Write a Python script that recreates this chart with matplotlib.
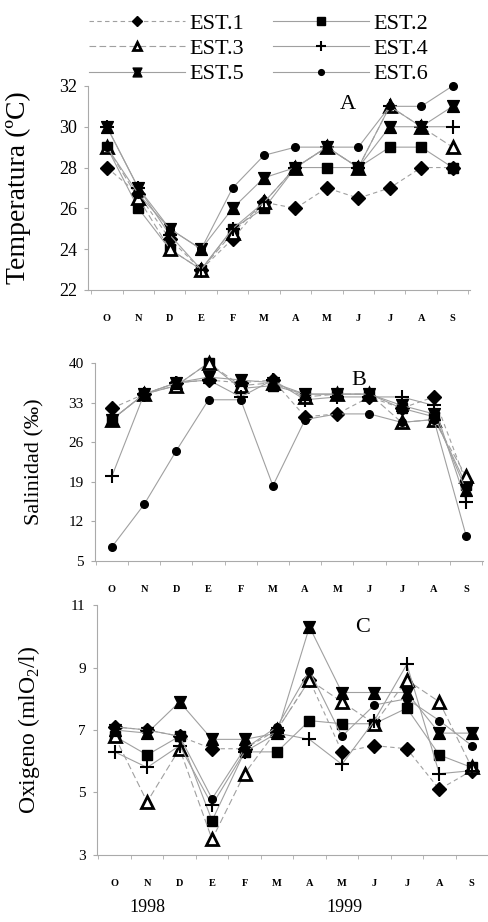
import matplotlib
matplotlib.use("Agg")
import matplotlib.pyplot as plt
from matplotlib.path import Path
from matplotlib.ticker import FixedLocator

plt.rcParams['font.family'] = ['Liberation Serif', 'DejaVu Serif']
plt.rcParams['mathtext.fontset'] = 'custom'
plt.rcParams['mathtext.rm'] = 'Liberation Serif'

meses = ['O', 'N', 'D', 'E', 'F', 'M', 'A', 'M', 'J', 'J', 'A', 'S']
estaciones = ['EST.1', 'EST.2', 'EST.3', 'EST.4', 'EST.5', 'EST.6']

# A - temperatura (C)
temp_e1 = [28, 26.7, 24.5, 23, 24.5, 26.3, 26, 27, 26.5, 27, 28, 28]
temp_e2 = [29, 26, 24, 23, 25, 26, 28, 28, 28, 29, 29, 28]
temp_e3 = [29, 26.5, 24, 23, 24.8, 26.3, 28, 29, 28, 31, 30, 29]
temp_e4 = [30, 27, 24.7, 23, 25, 26.3, 28, 29, 28, 31, 30, 30]
temp_e5 = [30, 27, 25, 24, 26, 27.5, 28, 29, 28, 30, 30, 31]
temp_e6 = [29, 26.7, 25, 24, 27, 28.6, 29, 29, 29, 31, 31, 32]

# B - salinidad
sal_e1 = [32, 34.5, 36.5, 37, 36.5, 37, 30.5, 31, 34, 32, 34, 19]
sal_e2 = [30, 34.5, 36, 40, 35.5, 36, 34.5, 34.5, 34.5, 32, 30.5, 18.5]
sal_e3 = [30, 34.5, 36, 40, 36, 36.5, 34, 34.5, 34.5, 29.5, 30, 20]
sal_e4 = [20, 34.5, 36.5, 37, 34, 37, 33.5, 34, 34, 34, 32.5, 15.5]
sal_e5 = [30, 34.5, 36.5, 37.5, 37, 36.5, 34.5, 34.5, 34.5, 32.5, 31, 17.5]
sal_e6 = [7.5, 15, 24.5, 33.5, 33.5, 18.3, 30, 31, 31, 29.5, 30, 9.5]

# C - oxigeno
oxi_e1 = [7.1, 7.0, 6.8, 6.4, 6.4, 7.0, 8.6, 6.3, 6.5, 6.4, 5.1, 5.7]
oxi_e2 = [6.8, 6.2, 6.8, 4.1, 6.3, 6.3, 7.3, 7.2, 7.2, 7.7, 6.2, 5.8]
oxi_e3 = [6.8, 4.7, 6.4, 3.5, 5.6, 7.0, 8.6, 7.9, 7.2, 8.6, 7.9, 5.8]
oxi_e4 = [6.3, 5.8, 6.5, 4.6, 6.3, 6.9, 6.7, 5.9, 7.3, 9.1, 5.6, 5.7]
oxi_e5 = [7.0, 6.9, 7.9, 6.7, 6.7, 6.9, 10.3, 8.2, 8.2, 8.2, 6.9, 6.9]
oxi_e6 = [7.1, 7.0, 6.8, 4.8, 6.4, 7.1, 8.9, 6.8, 7.8, 8.0, 7.3, 6.5]

# reloj de arena para EST.5
reloj = Path([(-1, 1), (1, 1), (0.5, 0), (1, -1), (-1, -1), (-0.5, 0), (-1, 1)],
             [Path.MOVETO] + [Path.LINETO] * 5 + [Path.CLOSEPOLY])

estilos = [
    dict(marker='D', ms=7, ls=(0, (4, 3)), mfc='black'),
    dict(marker='s', ms=7, ls='-', mfc='black'),
    dict(marker='^', ms=8, ls=(0, (6, 3)), mfc='white', mew=2.0),
    dict(marker='+', ms=10, ls='-', mfc='black', mew=1.5),
    dict(marker=reloj, ms=8.5, ls='-', mfc='black'),
    dict(marker='o', ms=5.5, ls='-', mfc='black'),
]

fig = plt.figure(figsize=(4.89, 9.22), dpi=100)
axA = fig.add_axes([0.180, 0.6855, 0.781, 0.2213])
axB = fig.add_axes([0.194, 0.3915, 0.794, 0.2148])
axC = fig.add_axes([0.198, 0.0727, 0.800, 0.2711])

paneles = [
    (axA, [temp_e1, temp_e2, temp_e3, temp_e4, temp_e5, temp_e6], (22, 32), [22, 24, 26, 28, 30, 32],
     'Temperatura (ºC)', 20, 13, 'A', (-0.6, 11.55)),
    (axB, [sal_e1, sal_e2, sal_e3, sal_e4, sal_e5, sal_e6], (5, 40), [5, 12, 19, 26, 33, 40],
     'Salinidad (‰)', 16, 11, 'B', (-0.53, 11.53)),
    (axC, [oxi_e1, oxi_e2, oxi_e3, oxi_e4, oxi_e5, oxi_e6], (3, 11), [3, 5, 7, 9, 11],
     'Oxigeno (mlO$_2$/l)', 17, 11, 'C', (-0.55, 11.5)),
]

x = list(range(len(meses)))
for ax, series, ylim, yticks, ylabel, ylfs, tfs, letra, xlim in paneles:
    for nombre, datos, st in zip(estaciones, series, estilos):
        ax.plot(x, datos, color='#a0a0a0', lw=0.8, ls=st['ls'], marker=st['marker'],
                ms=st['ms'], mfc=st['mfc'], mec='black', mew=st.get('mew', 1.0),
                label=nombre, clip_on=False, zorder=3)
    ax.set_ylim(*ylim)
    ax.set_xlim(*xlim)
    ax.set_yticks(yticks)
    ax.set_xticks(x)
    ax.set_xticklabels(meses, fontsize=7.5, fontweight='bold')
    ax.xaxis.set_minor_locator(FixedLocator([i + 0.5 for i in range(-1, 12)]))
    ax.tick_params(axis='x', which='major', length=0, pad=17)
    ax.tick_params(axis='x', which='minor', length=3, color='#aaaaaa')
    ax.tick_params(axis='y', length=3, color='#aaaaaa', labelsize=tfs, pad=5)
    for s in ['top', 'right']:
        ax.spines[s].set_visible(False)
    for s in ['left', 'bottom']:
        ax.spines[s].set_color('#aaaaaa')
        ax.spines[s].set_linewidth(0.8)
    ax.set_ylabel(ylabel, fontsize=ylfs)
    ax.text(0.68, 0.91, letra, transform=ax.transAxes, fontsize=16, ha='center', va='center')

axA.yaxis.set_label_coords(-0.15, 0.5)
axB.yaxis.set_label_coords(-0.13, 0.5)
axC.yaxis.set_label_coords(-0.14, 0.5)

h, l = axA.get_legend_handles_labels()
orden = [0, 2, 4, 1, 3, 5]
fig.legend([h[i] for i in orden], [l[i] for i in orden], ncol=2, loc='upper left',
           bbox_to_anchor=(0.16, 0.998), frameon=False, fontsize=16, handlelength=4.3,
           handletextpad=0.2, columnspacing=1.3, labelspacing=0.22, borderpad=0,
           markerscale=0.75)

fig.text(147 / 489, 1 - 907 / 922, '1998', fontsize=13, ha='center', va='center')
fig.text(344 / 489, 1 - 907 / 922, '1999', fontsize=13, ha='center', va='center')

fig.savefig('out.png', dpi=100)
